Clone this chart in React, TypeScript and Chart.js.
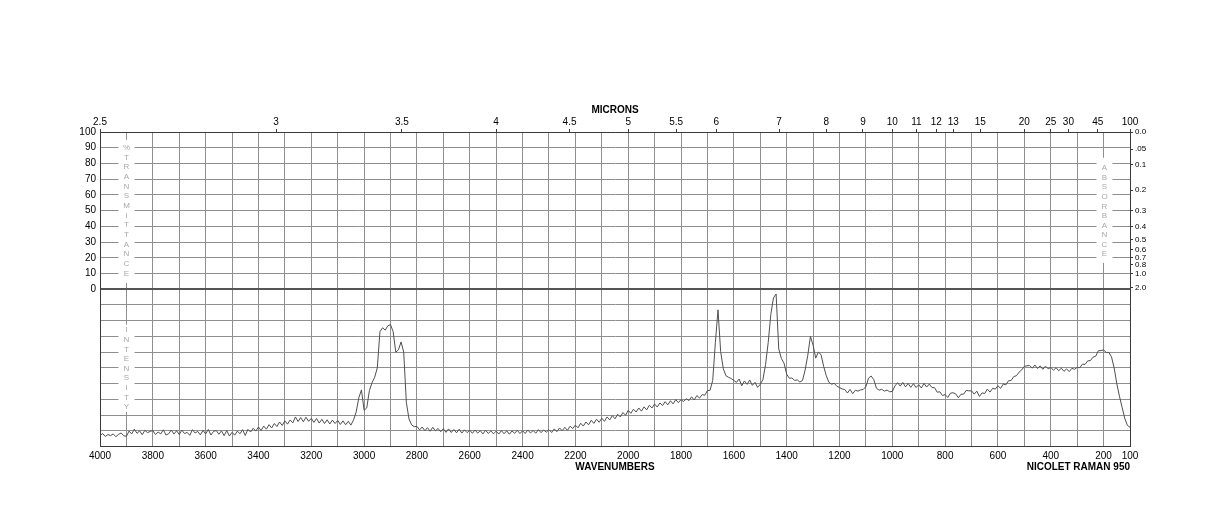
import React, { useEffect, useRef } from 'react';
import { Chart, registerables } from 'chart.js';

Chart.register(...registerables);

// Raman spectrum: relative intensity (0 = bottom of the lower panel, 100 = divider line),
// sampled every 10 cm-1 from 4000 down to 100 cm-1.
const WN_START = 4000;
const WN_STEP = 10;
const intensity: number[] = [
  7.0, 8.2, 6.4, 7.6, 6.9, 8.0, 6.2, 7.7, 8.6, 6.8, // 4000
  6.5, 9.8, 8.0, 11.0, 8.4, 9.9, 7.5, 10.3, 8.8, 9.6, // 3900
  10.1, 7.6, 9.2, 8.0, 10.6, 7.3, 8.1, 10.5, 7.9, 10.0, // 3800
  7.6, 10.4, 8.2, 9.0, 7.1, 10.7, 8.6, 9.6, 7.4, 10.2, // 3700
  8.0, 10.8, 7.3, 9.6, 10.2, 7.8, 9.9, 6.9, 10.1, 6.7, // 3600
  9.0, 7.2, 9.8, 8.1, 10.7, 7.0, 10.9, 9.2, 11.6, 9.8, // 3500
  12.4, 10.2, 13.0, 11.0, 13.9, 11.8, 14.6, 12.7, 15.6, 13.4, // 3400
  16.3, 14.2, 16.9, 15.0, 18.8, 15.9, 18.4, 15.7, 18.6, 16.0, // 3300
  17.9, 15.3, 17.8, 14.9, 17.3, 14.6, 17.0, 14.3, 16.8, 14.6, // 3200
  16.6, 14.0, 16.3, 13.8, 16.0, 13.6, 16.9, 22.0, 31.0, 36.0, // 3100
  23.0, 24.5, 35.5, 40.5, 44.0, 50.0, 73.0, 75.5, 74.0, 76.8, // 3000
  77.5, 73.0, 60.0, 61.5, 66.5, 60.0, 28.0, 17.5, 13.7, 12.6, // 2900
  12.8, 10.6, 12.4, 10.0, 12.0, 9.7, 12.2, 9.9, 11.5, 9.4, // 2800
  11.3, 9.0, 11.2, 8.9, 10.8, 8.7, 11.0, 8.5, 10.6, 8.8, // 2700
  10.4, 8.4, 10.5, 8.5, 10.1, 8.0, 10.4, 8.3, 9.9, 8.1, // 2600
  9.8, 7.9, 10.1, 8.1, 10.0, 7.8, 9.9, 8.4, 10.3, 8.2, // 2500
  10.0, 8.3, 10.5, 8.6, 10.2, 8.4, 10.7, 8.8, 10.5, 9.1, // 2400
  10.7, 8.9, 11.2, 9.4, 11.8, 10.0, 12.2, 10.3, 12.9, 11.4, // 2300
  13.6, 11.9, 14.8, 13.0, 15.6, 13.8, 16.7, 14.7, 17.4, 15.4, // 2200
  18.0, 16.0, 18.8, 16.9, 19.6, 17.6, 20.5, 18.8, 21.6, 19.9, // 2100
  23.0, 21.1, 23.7, 21.9, 24.5, 22.5, 25.2, 23.3, 26.2, 24.5, // 2000
  27.0, 25.1, 27.7, 26.0, 28.5, 26.5, 29.1, 27.1, 29.8, 27.9, // 1900
  29.8, 28.6, 30.4, 29.2, 31.6, 29.6, 32.4, 30.8, 33.0, 32.6, // 1800
  35.5, 35.8, 42.0, 66.0, 86.9, 60.4, 49.5, 45.0, 44.0, 43.2, // 1700
  42.0, 40.8, 42.9, 38.6, 41.7, 39.5, 42.3, 38.9, 40.8, 37.6, // 1600
  39.6, 42.5, 52.0, 66.0, 84.0, 94.5, 97.0, 62.0, 56.0, 53.0, // 1500
  46.0, 43.4, 43.6, 42.0, 42.4, 41.0, 42.0, 48.7, 58.0, 70.0, // 1400
  64.5, 56.2, 60.0, 58.5, 51.0, 45.0, 40.8, 39.6, 40.2, 38.3, // 1300
  37.5, 36.6, 36.2, 34.0, 36.3, 33.6, 35.8, 35.2, 36.0, 36.3, // 1200
  38.0, 43.5, 44.8, 42.5, 37.0, 35.8, 36.4, 35.2, 35.9, 34.8, // 1100
  35.0, 38.5, 40.6, 38.4, 40.7, 37.9, 40.1, 37.6, 39.9, 37.5, // 1000
  39.3, 37.2, 40.1, 37.8, 39.7, 37.5, 37.4, 34.5, 34.8, 32.4, // 900
  33.0, 31.2, 33.9, 34.2, 33.5, 31.0, 33.2, 33.3, 35.7, 35.4, // 800
  35.4, 33.3, 35.2, 31.8, 34.1, 33.7, 36.5, 34.6, 37.0, 36.5, // 700
  38.6, 37.0, 39.7, 39.2, 41.8, 42.0, 44.5, 45.0, 47.3, 48.7, // 600
  51.0, 51.3, 51.5, 49.8, 51.8, 49.6, 51.3, 49.1, 51.1, 49.4, // 500
  50.3, 48.5, 50.1, 48.2, 49.8, 47.8, 49.4, 47.6, 49.7, 49.1, // 400
  50.3, 50.1, 52.4, 52.2, 54.5, 54.6, 56.8, 57.4, 60.9, 61.0, // 300
  61.4, 59.8, 59.8, 57.0, 50.0, 40.0, 32.0, 25.0, 18.0, 13.5, // 200
  12.2, // 100
];
const wavenumbers: number[] = intensity.map((_, i) => WN_START - i * WN_STEP);

// Axis tick definitions
const xGridValues: number[] = Array.from({ length: 40 }, (_, i) => 100 + i * 100);
const xLabelValues: number[] = [4000, 3800, 3600, 3400, 3200, 3000, 2800, 2600, 2400, 2200, 2000, 1800, 1600, 1400, 1200, 1000, 800, 600, 400, 200, 100];
const micronLabels: string[] = ['2.5', '3', '3.5', '4', '4.5', '5', '5.5', '6', '7', '8', '9', '10', '11', '12', '13', '15', '20', '25', '30', '45', '100'];
const transmittanceTicks: number[] = [0, 10, 20, 30, 40, 50, 60, 70, 80, 90, 100];
const absorbanceLabels: string[] = ['0.0', '.05', '0.1', '0.2', '0.3', '0.4', '0.5', '0.6', '0.7', '0.8', '1.0', '2.0'];
const absorbanceValues: number[] = [0, 0.05, 0.1, 0.2, 0.3, 0.4, 0.5, 0.6, 0.7, 0.8, 1.0, 2.0];

const FONT = "'Liberation Sans', Arial, Helvetica, sans-serif";
const GRID = '#8e8e8e';
const DARK = '#3a3a3a';

const verticalLabels = [
  { text: '%TRANSMITTANCE', wn: 3900, first: 90, last: 10, boxTop: 95, boxBottom: 4 },
  { text: 'INTENSITY', wn: 3900, first: -26, last: -75, boxTop: -22.5, boxBottom: -78 },
  { text: 'ABSORBANCE', wn: 200, first: 77, last: 22.3, boxTop: 83.6, boxBottom: 16.8 },
];

const decorPlugin = {
  id: 'decor',
  beforeDatasetsDraw(chart: any) {
    const { ctx, scales } = chart;
    const x = scales.x;
    const y = scales.y;
    ctx.save();
    for (const lab of verticalLabels) {
      const cx = Math.round(x.getPixelForValue(lab.wn)) + 0.5;
      const top = y.getPixelForValue(lab.boxTop);
      const bot = y.getPixelForValue(lab.boxBottom);
      ctx.fillStyle = '#ffffff';
      ctx.fillRect(cx - 8, top, 16, bot - top);
      ctx.fillStyle = '#a8a8a8';
      ctx.font = `8px ${FONT}`;
      ctx.textAlign = 'center';
      ctx.textBaseline = 'middle';
      const chars = Array.from(lab.text);
      chars.forEach((c, i) => {
        const v = lab.first + ((lab.last - lab.first) * i) / (chars.length - 1);
        ctx.fillText(c, cx, y.getPixelForValue(v));
      });
    }
    ctx.restore();
  },
  afterDraw(chart: any) {
    const { ctx, chartArea } = chart;
    ctx.save();
    ctx.fillStyle = '#000';
    ctx.font = `bold 10px ${FONT}`;
    ctx.textBaseline = 'middle';
    ctx.textAlign = 'center';
    const cx = (chartArea.left + chartArea.right) / 2;
    ctx.fillText('MICRONS', cx, chartArea.top - 22);
    ctx.fillText('WAVENUMBERS', cx, chartArea.bottom + 21);
    ctx.textAlign = 'right';
    ctx.fillText('NICOLET RAMAN 950', chartArea.right, chartArea.bottom + 21);
    ctx.restore();
  },
};

export default function App() {
  const canvasRef = useRef<HTMLCanvasElement | null>(null);

  useEffect(() => {
    if (!canvasRef.current) return;
    const data = wavenumbers.map((w, i) => ({ x: w, y: intensity[i] - 100 }));
    const chart = new Chart(canvasRef.current, {
      type: 'line',
      data: {
        datasets: [
          {
            data,
            borderColor: '#505050',
            borderWidth: 1,
            pointRadius: 0,
            tension: 0,
            fill: false,
          },
        ],
      },
      options: {
        responsive: false,
        animation: false,
        events: [],
        layout: { padding: 0 },
        plugins: { legend: { display: false }, tooltip: { enabled: false } },
        scales: {
          x: {
            type: 'linear',
            position: 'bottom',
            min: 100,
            max: 4000,
            reverse: true,
            afterBuildTicks: (s: any) => {
              s.ticks = xGridValues.map((v) => ({ value: v }));
            },
            afterFit: (s: any) => {
              s.height = 81.5;
            },
            ticks: {
              autoSkip: false,
              maxRotation: 0,
              padding: 4,
              color: '#000',
              font: { family: FONT, size: 10 },
              callback: (v: any) => (xLabelValues.includes(Number(v)) ? String(v) : ''),
            },
            grid: { color: GRID, lineWidth: 1, drawTicks: false },
            border: { display: true, color: DARK, width: 1 },
          },
          x2: {
            type: 'linear',
            position: 'top',
            min: 100,
            max: 4000,
            reverse: true,
            afterBuildTicks: (s: any) => {
              s.ticks = micronLabels.map((m) => ({ value: 10000 / parseFloat(m) }));
            },
            afterFit: (s: any) => {
              s.height = 132;
            },
            ticks: {
              autoSkip: false,
              maxRotation: 0,
              padding: 1,
              color: '#000',
              font: { family: FONT, size: 10 },
              callback: (_v: any, i: number) => micronLabels[i],
            },
            grid: { drawOnChartArea: false, drawTicks: true, tickLength: 3, color: DARK },
            border: { display: true, color: DARK, width: 1 },
          },
          y: {
            type: 'linear',
            position: 'left',
            min: -100,
            max: 100,
            afterBuildTicks: (s: any) => {
              const t: any[] = [];
              for (let v = -100; v <= 100; v += 10) t.push({ value: v });
              s.ticks = t;
            },
            afterFit: (s: any) => {
              s.width = 100;
            },
            ticks: {
              autoSkip: false,
              padding: 4,
              color: '#000',
              font: { family: FONT, size: 10 },
              callback: (v: any) => (transmittanceTicks.includes(Number(v)) ? String(v) : ''),
            },
            grid: {
              drawTicks: false,
              color: (c: any) => (c.tick && (c.tick.value === 0 || c.tick.value === 100) ? '#555' : GRID),
              lineWidth: (c: any) => (c.tick && c.tick.value === 0 ? 2 : 1),
            },
            border: { display: true, color: DARK, width: 1 },
          },
          y2: {
            type: 'linear',
            position: 'right',
            min: -100,
            max: 100,
            afterBuildTicks: (s: any) => {
              s.ticks = absorbanceValues.map((a) => ({ value: 100 * Math.pow(10, -a) }));
            },
            afterFit: (s: any) => {
              s.width = 94;
            },
            ticks: {
              autoSkip: false,
              padding: 2,
              color: '#000',
              font: { family: FONT, size: 8 },
              callback: (_v: any, i: number) => absorbanceLabels[i],
            },
            grid: { drawOnChartArea: false, drawTicks: true, tickLength: 3, color: DARK },
            border: { display: true, color: DARK, width: 1 },
          },
        },
      },
      plugins: [decorPlugin],
    } as any);
    return () => chart.destroy();
  }, []);

  return (
    <div style={{ position: 'absolute', left: 0, top: 0, width: 1224, height: 528, background: '#fff' }}>
      <canvas ref={canvasRef} width={1224} height={528} />
    </div>
  );
}
